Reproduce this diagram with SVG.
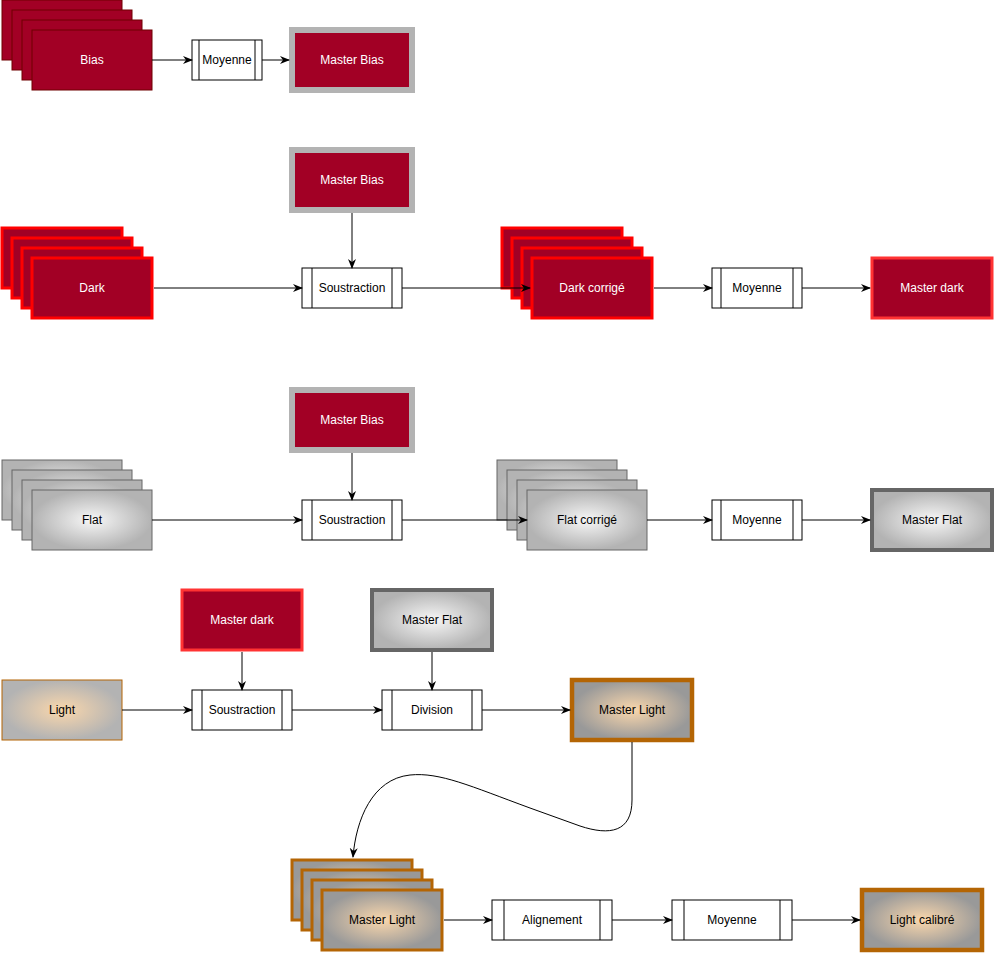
<svg xmlns="http://www.w3.org/2000/svg" width="994" height="953" viewBox="0 0 994 953">
<defs>
<radialGradient id="gFlat" cx="50%" cy="50%" r="50%">
<stop offset="0" stop-color="#F7F7F7"/>
<stop offset="1" stop-color="#B3B3B3"/>
</radialGradient>
<radialGradient id="gLight" cx="50%" cy="50%" r="50%">
<stop offset="0" stop-color="#FAD7AC"/>
<stop offset="1" stop-color="#B3B3B3"/>
</radialGradient>
<radialGradient id="gMLight" cx="50%" cy="50%" r="50%">
<stop offset="0" stop-color="#FAD7AC"/>
<stop offset="1" stop-color="#999999"/>
</radialGradient>
<marker id="arr" viewBox="0 0 10 10" refX="9" refY="5" markerWidth="10" markerHeight="10" markerUnits="userSpaceOnUse" orient="auto">
<path d="M0,1 L10,5 L0,9 L3,5 Z" fill="#000"/>
</marker>
</defs>
<style>
text{font-family:"Liberation Sans",Arial,sans-serif;font-size:12px;text-anchor:middle;dominant-baseline:central}
.w{fill:#FFFFFF}
.k{fill:#000000}
.bias{fill:#A20025;stroke:#6F0000;stroke-width:1}
.mbias{fill:#A20025;stroke:#B3B3B3;stroke-width:6}
.dark{fill:#A20025;stroke:#FF0000;stroke-width:3}
.mdark{fill:#A20025;stroke:#FF3333;stroke-width:3}
.flat{fill:url(#gFlat);stroke:#666666;stroke-width:1}
.mflat{fill:url(#gFlat);stroke:#666666;stroke-width:4}
.light{fill:url(#gLight);stroke:#B46504;stroke-width:1}
.lstack{fill:url(#gMLight);stroke:#B46504;stroke-width:3}
.mlight{fill:url(#gMLight);stroke:#B46504;stroke-width:4.5}
.proc{fill:#FFFFFF;stroke:#000000;stroke-width:1}
.edge{fill:none;stroke:#000000;stroke-width:1;marker-end:url(#arr)}
</style>
<rect width="994" height="953" fill="#FFFFFF"/>

<!-- Row 1 -->
<g id="bias">
<rect class="bias" x="2" y="0" width="120" height="60"/>
<rect class="bias" x="12" y="10" width="120" height="60"/>
<rect class="bias" x="22" y="20" width="120" height="60"/>
<rect class="bias" x="32" y="30" width="120" height="60"/>
<text class="w" x="92" y="60">Bias</text>
</g>
<g id="moyenne1">
<rect class="proc" x="192" y="40" width="70" height="40"/>
<line x1="199" y1="40" x2="199" y2="80" stroke="#000"/>
<line x1="255" y1="40" x2="255" y2="80" stroke="#000"/>
<text class="k" x="227" y="60">Moyenne</text>
</g>
<g id="masterbias1">
<rect class="mbias" x="292" y="30" width="120" height="60"/>
<text class="w" x="352" y="60">Master Bias</text>
</g>

<!-- Row 2 -->
<g id="masterbias2">
<rect class="mbias" x="292" y="150" width="120" height="60"/>
<text class="w" x="352" y="180">Master Bias</text>
</g>
<g id="dark">
<rect class="dark" x="2" y="228" width="120" height="60"/>
<rect class="dark" x="12" y="238" width="120" height="60"/>
<rect class="dark" x="22" y="248" width="120" height="60"/>
<rect class="dark" x="32" y="258" width="120" height="60"/>
<text class="w" x="92" y="288">Dark</text>
</g>
<g id="soustraction1">
<rect class="proc" x="302" y="268" width="100" height="40"/>
<line x1="312" y1="268" x2="312" y2="308" stroke="#000"/>
<line x1="392" y1="268" x2="392" y2="308" stroke="#000"/>
<text class="k" x="352" y="288">Soustraction</text>
</g>
<g id="darkcorrige">
<rect class="dark" x="502" y="228" width="120" height="60"/>
<rect class="dark" x="512" y="238" width="120" height="60"/>
<rect class="dark" x="522" y="248" width="120" height="60"/>
<rect class="dark" x="532" y="258" width="120" height="60"/>
<text class="w" x="592" y="288">Dark corrigé</text>
</g>
<g id="moyenne2">
<rect class="proc" x="712" y="268" width="90" height="40"/>
<line x1="721" y1="268" x2="721" y2="308" stroke="#000"/>
<line x1="793" y1="268" x2="793" y2="308" stroke="#000"/>
<text class="k" x="757" y="288">Moyenne</text>
</g>
<g id="masterdark1">
<rect class="mdark" x="872" y="258" width="120" height="60"/>
<text class="w" x="932" y="288">Master dark</text>
</g>

<!-- Row 3 -->
<g id="masterbias3">
<rect class="mbias" x="292" y="390" width="120" height="60"/>
<text class="w" x="352" y="420">Master Bias</text>
</g>
<g id="flat">
<rect class="flat" x="2" y="460" width="120" height="60"/>
<rect class="flat" x="12" y="470" width="120" height="60"/>
<rect class="flat" x="22" y="480" width="120" height="60"/>
<rect class="flat" x="32" y="490" width="120" height="60"/>
<text class="k" x="92" y="520">Flat</text>
</g>
<g id="soustraction2">
<rect class="proc" x="302" y="500" width="100" height="40"/>
<line x1="312" y1="500" x2="312" y2="540" stroke="#000"/>
<line x1="392" y1="500" x2="392" y2="540" stroke="#000"/>
<text class="k" x="352" y="520">Soustraction</text>
</g>
<g id="flatcorrige">
<rect class="flat" x="497" y="460" width="120" height="60"/>
<rect class="flat" x="507" y="470" width="120" height="60"/>
<rect class="flat" x="517" y="480" width="120" height="60"/>
<rect class="flat" x="527" y="490" width="120" height="60"/>
<text class="k" x="587" y="520">Flat corrigé</text>
</g>
<g id="moyenne3">
<rect class="proc" x="712" y="500" width="90" height="40"/>
<line x1="721" y1="500" x2="721" y2="540" stroke="#000"/>
<line x1="793" y1="500" x2="793" y2="540" stroke="#000"/>
<text class="k" x="757" y="520">Moyenne</text>
</g>
<g id="masterflat1">
<rect class="mflat" x="872" y="490" width="120" height="60"/>
<text class="k" x="932" y="520">Master Flat</text>
</g>

<!-- Row 4 -->
<g id="masterdark2">
<rect class="mdark" x="182" y="590" width="120" height="60"/>
<text class="w" x="242" y="620">Master dark</text>
</g>
<g id="masterflat2">
<rect class="mflat" x="372" y="590" width="120" height="60"/>
<text class="k" x="432" y="620">Master Flat</text>
</g>
<g id="light">
<rect class="light" x="2" y="680" width="120" height="60"/>
<text class="k" x="62" y="710">Light</text>
</g>
<g id="soustraction3">
<rect class="proc" x="192" y="690" width="100" height="40"/>
<line x1="202" y1="690" x2="202" y2="730" stroke="#000"/>
<line x1="282" y1="690" x2="282" y2="730" stroke="#000"/>
<text class="k" x="242" y="710">Soustraction</text>
</g>
<g id="division">
<rect class="proc" x="382" y="690" width="100" height="40"/>
<line x1="392" y1="690" x2="392" y2="730" stroke="#000"/>
<line x1="472" y1="690" x2="472" y2="730" stroke="#000"/>
<text class="k" x="432" y="710">Division</text>
</g>
<g id="masterlight1">
<rect class="mlight" x="572" y="680" width="120" height="60"/>
<text class="k" x="632" y="710">Master Light</text>
</g>

<!-- Row 5 -->
<g id="masterlight2">
<rect class="lstack" x="292" y="860" width="120" height="60"/>
<rect class="lstack" x="302" y="870" width="120" height="60"/>
<rect class="lstack" x="312" y="880" width="120" height="60"/>
<rect class="lstack" x="322" y="890" width="120" height="60"/>
<text class="k" x="382" y="920">Master Light</text>
</g>
<g id="alignement">
<rect class="proc" x="492" y="900" width="120" height="40"/>
<line x1="504" y1="900" x2="504" y2="940" stroke="#000"/>
<line x1="600" y1="900" x2="600" y2="940" stroke="#000"/>
<text class="k" x="552" y="920">Alignement</text>
</g>
<g id="moyenne4">
<rect class="proc" x="672" y="900" width="120" height="40"/>
<line x1="684" y1="900" x2="684" y2="940" stroke="#000"/>
<line x1="780" y1="900" x2="780" y2="940" stroke="#000"/>
<text class="k" x="732" y="920">Moyenne</text>
</g>
<g id="lightcalibre">
<rect class="mlight" x="862" y="890" width="120" height="60"/>
<text class="k" x="922" y="920">Light calibré</text>
</g>

<!-- Connectors -->
<g id="connectors">
<path class="edge" d="M152,60 L192,60"/>
<path class="edge" d="M262,60 L289,60"/>
<path class="edge" d="M352,213 L352,268"/>
<path class="edge" d="M154,288 L302,288"/>
<path class="edge" d="M402,288 L530,288"/>
<path class="edge" d="M654,288 L712,288"/>
<path class="edge" d="M802,288 L870,288"/>
<path class="edge" d="M352,453 L352,500"/>
<path class="edge" d="M152,520 L302,520"/>
<path class="edge" d="M402,520 L527,520"/>
<path class="edge" d="M647,520 L712,520"/>
<path class="edge" d="M802,520 L870,520"/>
<path class="edge" d="M242,652 L242,690"/>
<path class="edge" d="M432,652 L432,690"/>
<path class="edge" d="M122,710 L192,710"/>
<path class="edge" d="M292,710 L382,710"/>
<path class="edge" d="M482,710 L570,710"/>
<path class="edge" d="M632,742 L632,800 C632,832 610,836 580,826 L530,808 C470,786 440,772 410,775 C372,779 356,820 353,857"/>
<path class="edge" d="M444,920 L492,920"/>
<path class="edge" d="M612,920 L672,920"/>
<path class="edge" d="M792,920 L860,920"/>
</g>
</svg>
